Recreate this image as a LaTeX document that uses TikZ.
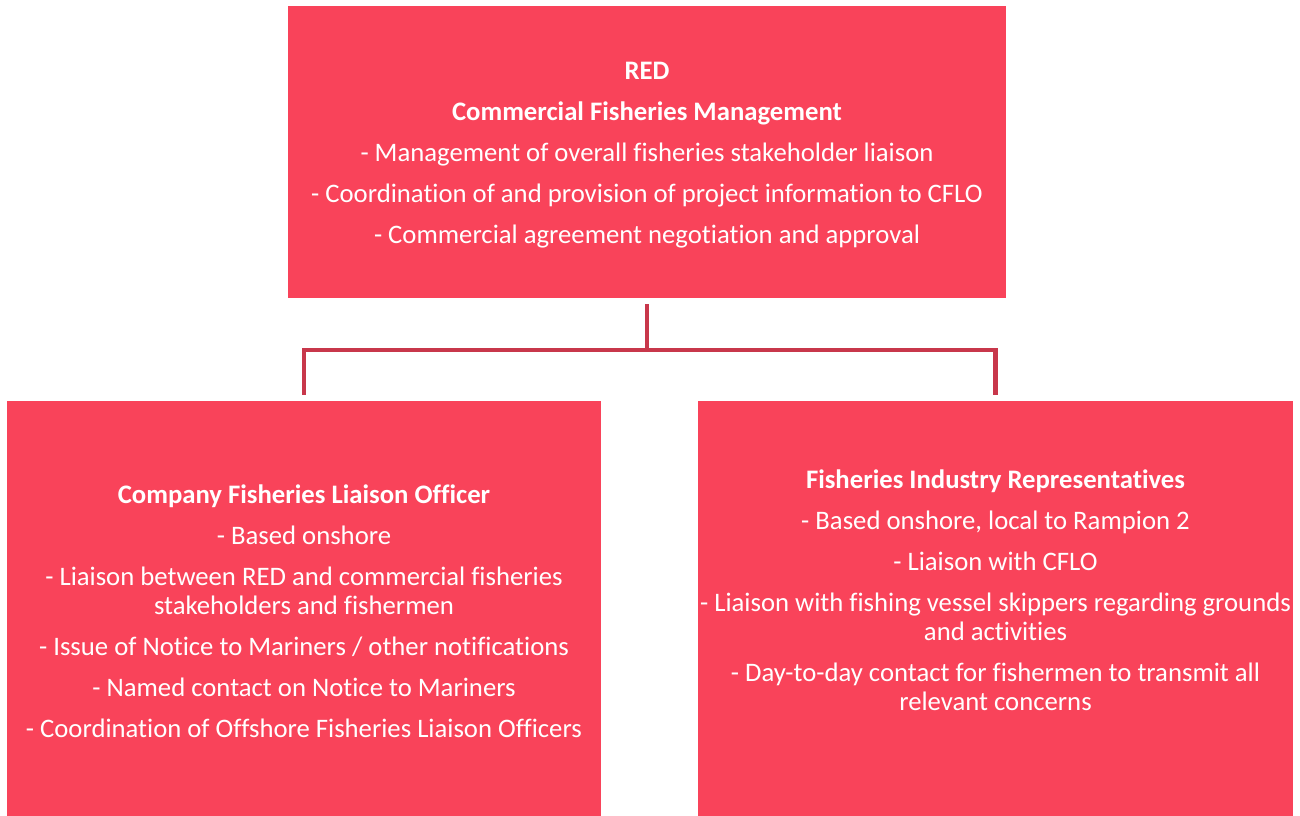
\documentclass[tikz,border=0pt]{standalone}
\usepackage{fontspec}
\setmainfont[RawFeature=-liga]{Carlito}
\usepackage{tikz}
\usetikzlibrary{calc,positioning}

\definecolor{boxred}{RGB}{249,67,90}
\definecolor{linkred}{RGB}{200,55,75}

\tikzset{
  unitbox/.style={fill=boxred, draw=none, inner sep=0pt},
  unittext/.style={text=white, align=center, inner sep=0pt,
    font=\fontsize{15.2}{16.5}\selectfont},
  link/.style={draw=linkred, line width=2.3pt, line join=miter}
}

\begin{document}
\begin{tikzpicture}
      \useasboundingbox (0, 0) rectangle (26, 16.32);
      % boxes
      \node[unitbox, minimum width=14.36cm, minimum height=5.84cm] (red) at (12.94, 13.28) {};
      \node[unitbox, minimum width=11.88cm, minimum height=8.3cm] (cflo) at (6.08, 4.15) {};
      \node[unitbox, minimum width=11.9cm, minimum height=8.3cm] (fir) at (19.91, 4.15) {};
      % texts
      \node[unittext] (redtxt) at ([yshift=-0.06cm]red.center) {\textbf{RED}\\[6.8pt]
        \textbf{Commercial Fisheries Management}\\[6.8pt]
        - Management of overall fisheries stakeholder liaison\\[6.8pt]
        - Coordination of and provision of project information to CFLO\\[6.8pt]
        - Commercial agreement negotiation and approval};
      \node[unittext] (cflotxt) at ([yshift=-0.05cm]cflo.center) {\textbf{Company Fisheries Liaison Officer}\\[6.8pt]
        - Based onshore\\[6.8pt]
        - Liaison between RED and commercial fisheries\\
        stakeholders and fishermen\\[6.8pt]
        - Issue of Notice to Mariners / other notifications\\[6.8pt]
        - Named contact on Notice to Mariners\\[6.8pt]
        - Coordination of Offshore Fisheries Liaison Officers};
      \node[unittext] (firtxt) at ([yshift=0.36cm]fir.center) {\textbf{Fisheries Industry Representatives}\\[6.8pt]
        - Based onshore, local to Rampion 2\\[6.8pt]
        - Liaison with CFLO\\[6.8pt]
        - Liaison with fishing vessel skippers regarding grounds\\
        and activities\\[6.8pt]
        - Day-to-day contact for fishermen to transmit all\\
        relevant concerns};
      % connectors
      \draw[link] ([yshift=-0.12cm]red.south) -- ++(0, -0.92) coordinate (bus);
      \draw[link] ([yshift=0.12cm]cflo.north) |- (bus) -| ([yshift=0.12cm]fir.north);
\end{tikzpicture}
\end{document}
